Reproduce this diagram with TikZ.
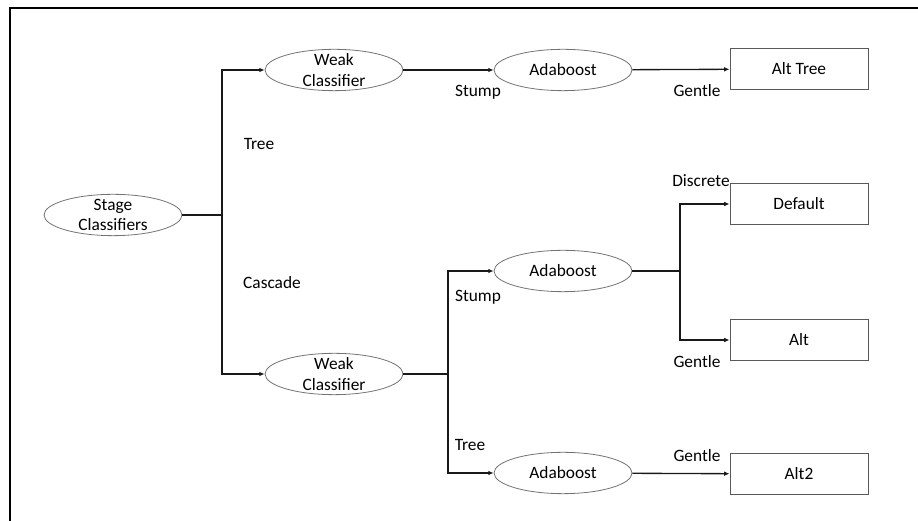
\documentclass[tikz,border=0pt]{standalone}
\usepackage{fontspec}
\setmainfont{Carlito}
\usetikzlibrary{arrows.meta,shapes.geometric}

\tikzset{
    oval/.style={ellipse,draw=black!55,line width=0.6pt,minimum width=103.5pt,minimum height=31pt,inner xsep=0pt,inner ysep=-6pt,align=center},
    leaf/.style={rectangle,draw=black!65,line width=0.7pt,minimum width=103.5pt,minimum height=31pt},
    conn/.style={line width=1pt,draw=black!90},
    arr/.style={conn,-{Latex[length=4pt,width=3.5pt]}},
    tag/.style={inner sep=0pt}
}

\begin{document}
\begin{tikzpicture}[x=0.75pt,y=0.75pt,font=\fontsize{13}{15.5}\selectfont]
    \useasboundingbox (0,0) rectangle (918,521);
    % frame
    \draw[line width=1.5pt] (10,0) -- (10,513) -- (918,513);

    % nodes
    \node[oval] (stage) at (113,306) {Stage\\Classifiers};
    \node[oval] (weakA) at (334,451) {Weak\\Classifier};
    \node[oval] (weakB) at (334,147) {Weak\\Classifier};
    \node[oval] (adaA) at (563,451) {Adaboost};
    \node[oval] (adaB) at (563,250) {Adaboost};
    \node[oval] (adaC) at (563,48) {Adaboost};
    \node[leaf] (alttree) at (799,452) {Alt Tree};
    \node[leaf] (default) at (799,317) {Default};
    \node[leaf] (alt) at (799,181) {Alt};
    \node[leaf] (alttwo) at (799,47) {Alt2};

    % branch points
    \coordinate (busA) at (222,306);
    \coordinate (busB) at (448,147);
    \coordinate (busC) at (680,250);

    % connectors
    \draw[conn] (stage) -- (busA);
    \draw[arr] (busA) |- (weakA);
    \draw[arr] (busA) |- (weakB);
    \draw[arr] (weakA) -- (adaA);
    \draw[arr] (adaA) -- (alttree);
    \draw[conn] (weakB) -- (busB);
    \draw[arr] (busB) |- (adaB);
    \draw[arr] (busB) |- (adaC);
    \draw[conn] (adaB) -- (busC);
    \draw[arr] (busC) |- (default);
    \draw[arr] (busC) |- (alt);
    \draw[arr] (adaC) -- (alttwo);

    % edge labels
    \node[tag] (lbltree) at (259,377) {Tree};
    \node[tag] (lblcascade) at (272,238) {Cascade};
    \node[tag] (lblstumpa) at (478,429) {Stump};
    \node[tag] (lblgentlea) at (697,430) {Gentle};
    \node[tag] (lbldiscrete) at (701,340) {Discrete};
    \node[tag] (lblstumpb) at (478,224) {Stump};
    \node[tag] (lblgentleb) at (697,159) {Gentle};
    \node[tag] (lbltreeb) at (470,76) {Tree};
    \node[tag] (lblgentlec) at (697,65) {Gentle};
\end{tikzpicture}
\end{document}
